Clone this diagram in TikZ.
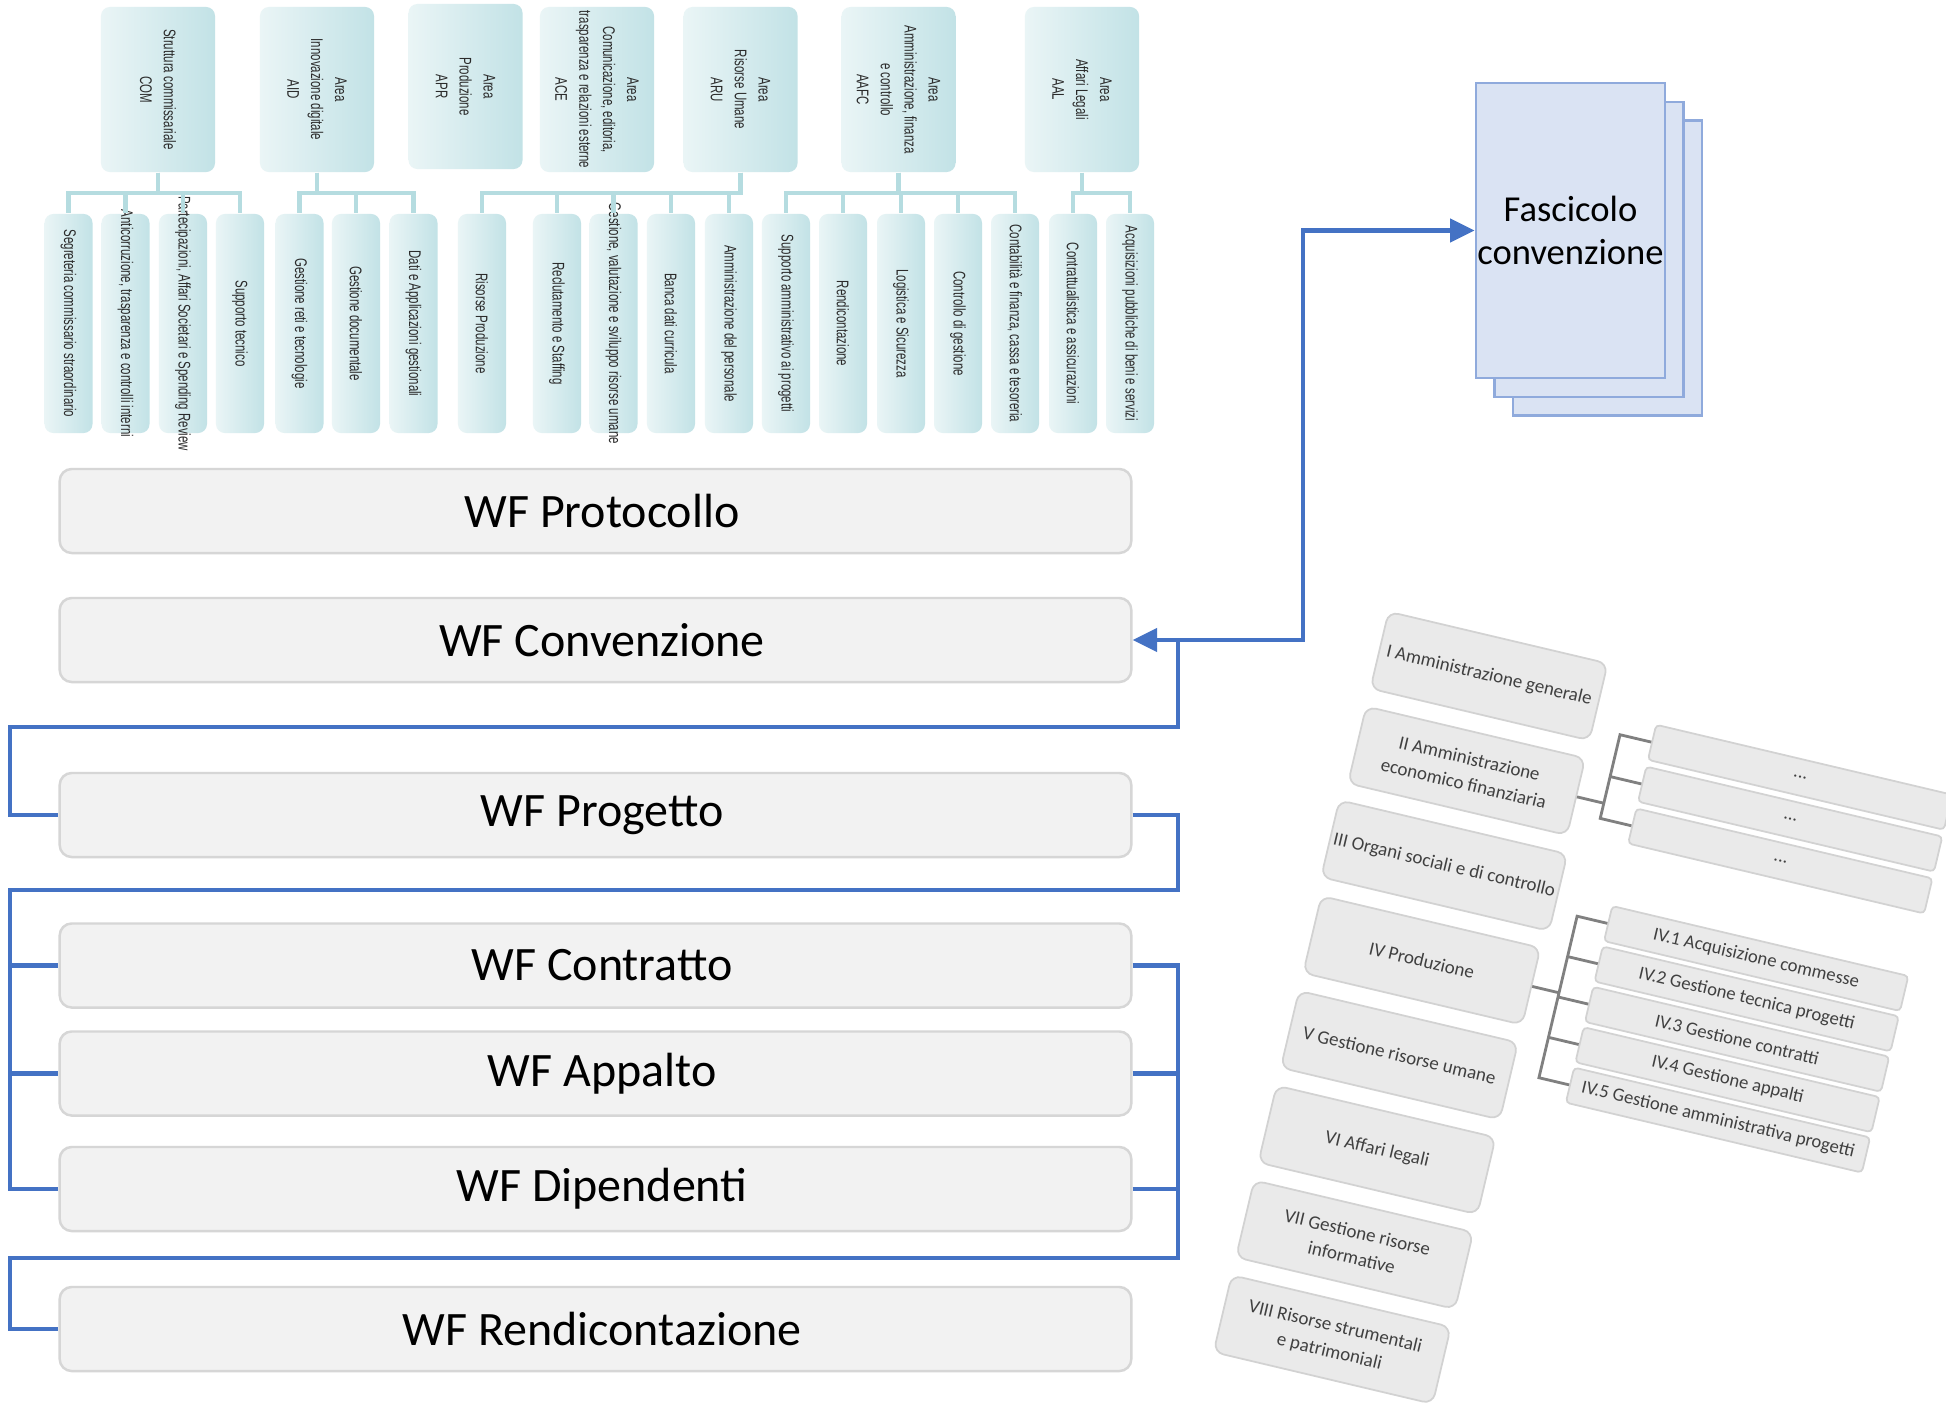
\documentclass[tikz,border=0pt]{standalone}
\usepackage{fontspec}
\setmainfont{Carlito}
\newfontfamily\orgfont[FakeStretch=0.68]{Liberation Sans}
\usetikzlibrary{arrows.meta}
\definecolor{wfblue}{HTML}{4472C4}
\definecolor{wffill}{HTML}{F2F2F2}
\definecolor{wfdraw}{HTML}{D6D6D6}
\definecolor{orgdark}{HTML}{C2E2E6}
\definecolor{orglight}{HTML}{EAF5F6}
\definecolor{orgline}{HTML}{B5DCE0}
\definecolor{orgtext}{HTML}{2B2B2B}
\definecolor{fascfill}{HTML}{DAE3F3}
\definecolor{fascdraw}{HTML}{8FAADC}
\definecolor{tiltfill}{HTML}{EAEAEA}
\definecolor{tiltdraw}{HTML}{D2D2D2}
\definecolor{tilttext}{HTML}{404040}
\definecolor{tiltline}{HTML}{808080}
\newcommand\ctext[1]{\makebox[0pt]{#1}}
\tikzset{
  wfbox/.style={draw=wfdraw, fill=wffill, line width=0.7pt, rounded corners=0.12cm, minimum width=10.71cm, minimum height=0.84cm, inner sep=0pt, font=\fontsize{13.65}{15.5}\selectfont, execute at begin node={\hspace*{0.13cm}}},
  bluecon/.style={draw=wfblue, line width=1.3pt},
  bluearrow/.style={bluecon, {Triangle[length=7pt,width=6.5pt]}-{Triangle[length=7pt,width=6.5pt]}},
  orgbase/.style={rotate=-90, rounded corners=0.09cm, left color=orglight, right color=orgdark, inner sep=0pt, align=center, text=orgtext, font=\orgfont\fontsize{4.8}{6.8}\selectfont},
  orghead/.style={orgbase, minimum width=1.65cm, minimum height=1.14cm},
  orgchild/.style={orgbase, minimum width=2.19cm, minimum height=0.48cm},
  orgconn/.style={draw=orgline, line width=1.3pt},
  fascpage/.style={draw=fascdraw, fill=fascfill, line width=0.7pt, minimum width=1.89cm, minimum height=2.95cm, inner sep=0pt, align=center, font=\fontsize{10.4}{12.4}\selectfont},
  mainbox/.style={transform shape, draw=tiltdraw, fill=tiltfill, line width=0.5pt, rounded corners=0.1cm, minimum width=2.25cm, minimum height=0.79cm, inner sep=1pt, align=center, text=tilttext, font=\fontsize{5.4}{7.3}\selectfont},
  subbox/.style={transform shape, draw=tiltdraw, fill=tiltfill, line width=0.5pt, rounded corners=0.04cm, minimum width=3.04cm, minimum height=0.36cm, inner sep=1pt, text=tilttext, font=\fontsize{5.3}{6.3}\selectfont},
  graycon/.style={draw=tiltline, line width=0.8pt},
}
\begin{document}
\begin{tikzpicture}[x=0.01cm, y=-0.01cm]
\useasboundingbox (0,0) rectangle (1946,1415);
\clip (0,0) rectangle (1946,1415);
\fill[white] (0,0) rectangle (1946,1415);

% ---------- org chart heads ----------
\node[orghead] (hCOM) at (158,89.5) {Struttura commissariale\\COM};
\node[orghead] (hAID) at (317,89.5) {Area\\Innovazione digitale\\AID};
\node[orghead] (hAPR) at (465.5,86.5) {Area\\Produzione\\APR};
\node[orghead] (hACE) at (597,89.5) {Area\\Comunicazione, editoria,\\trasparenza e relazioni esterne\\ACE};
\node[orghead] (hARU) at (740.5,89.5) {Area\\Risorse Umane\\ARU};
\node[orghead] (hAAFC) at (898.5,89.5) {Area\\Amministrazione, finanza\\e controllo\\AAFC};
\node[orghead] (hAAL) at (1082,89.5) {Area\\Affari Legali\\AAL};

% ---------- org chart children ----------
\node[orgchild] (c1) at (68.5,323.5) {\ctext{Segreteria commissario straordinario}};
\node[orgchild] (c2) at (125.5,323.5) {\ctext{Anticorruzione, trasparenza e controlli interni}};
\node[orgchild] (c3) at (183,323.5) {\ctext{Partecipazioni, Affari Societari e Spending Review}};
\node[orgchild] (c4) at (240,323.5) {\ctext{Supporto tecnico}};
\node[orgchild] (c5) at (299.5,323.5) {\ctext{Gestione reti e tecnologie}};
\node[orgchild] (c6) at (356,323.5) {\ctext{Gestione documentale}};
\node[orgchild] (c7) at (413.5,323.5) {\ctext{Dati e Applicazioni gestionali}};
\node[orgchild] (c8) at (482,323.5) {\ctext{Risorse Produzione}};
\node[orgchild] (c9) at (557,323.5) {\ctext{Reclutamento e Staffing}};
\node[orgchild] (c10) at (613.5,323.5) {\ctext{Gestione, valutazione e sviluppo risorse umane}};
\node[orgchild] (c11) at (671,323.5) {\ctext{Banca dati curricula}};
\node[orgchild] (c12) at (729,323.5) {\ctext{Amministrazione del personale}};
\node[orgchild] (c13) at (786,323.5) {\ctext{Supporto amministrativo ai progetti}};
\node[orgchild] (c14) at (843,323.5) {\ctext{Rendicontazione}};
\node[orgchild] (c15) at (901,323.5) {\ctext{Logistica e Sicurezza}};
\node[orgchild] (c16) at (958,323.5) {\ctext{Controllo di gestione}};
\node[orgchild] (c17) at (1015,323.5) {\ctext{Contabilità e finanza, cassa e tesoreria}};
\node[orgchild] (c18) at (1073,323.5) {\ctext{Contrattualistica e assicurazioni}};
\node[orgchild] (c19) at (1130,323.5) {\ctext{Acquisizioni pubbliche di beni e servizi}};

\coordinate (bar) at (0,193);
\foreach \c in {1,...,4} \draw[orgconn] (hCOM.east) -- (hCOM.east |- bar) -| (c\c.west);
\foreach \c in {5,6,7} \draw[orgconn] (hAID.east) -- (hAID.east |- bar) -| (c\c.west);
\foreach \c in {8,...,12} \draw[orgconn] (hARU.east) -- (hARU.east |- bar) -| (c\c.west);
\foreach \c in {13,...,17} \draw[orgconn] (hAAFC.east) -- (hAAFC.east |- bar) -| (c\c.west);
\foreach \c in {18,19} \draw[orgconn] (hAAL.east) -- (hAAL.east |- bar) -| (c\c.west);

% ---------- WF boxes ----------
\node[wfbox] (wf1) at (595.5,511) {WF Protocollo};
\node[wfbox] (wf2) at (595.5,640) {WF Convenzione};
\node[wfbox] (wf3) at (595.5,815) {WF Progetto};
\node[wfbox] (wf4) at (595.5,965.5) {WF Contratto};
\node[wfbox] (wf5) at (595.5,1073.5) {WF Appalto};
\node[wfbox] (wf6) at (595.5,1189) {WF Dipendenti};
\node[wfbox] (wf7) at (595.5,1329) {WF Rendicontazione};

% ---------- Fascicolo ----------
\node[fascpage] (fasc3) at (1607.5,268) {};
\node[fascpage] (fasc2) at (1589,249.5) {};
\node[fascpage] (fasc1) at (1570.5,230.5) {Fascicolo\\convenzione};

% ---------- blue connectors ----------
\coordinate (fx) at (1303,0);
\coordinate (r23) at (1178,727);
\coordinate (l23) at (10,727);
\coordinate (r34) at (1178,890);
\coordinate (l34) at (10,890);
\coordinate (r67) at (1178,1258);
\coordinate (l67) at (10,1258);
\draw[bluearrow] (wf2.east) -- (wf2.east -| fx) |- (fasc1.west);
\draw[bluecon] (wf2.east -| r23) -- (r23) -- (l23) |- (wf3.west);
\draw[bluecon] (wf3.east) -| (r34) -- (l34) |- (wf4.west);
\draw[bluecon] (l34) |- (wf5.west);
\draw[bluecon] (l34) |- (wf6.west);
\draw[bluecon] (wf4.east) -| (r67);
\draw[bluecon] (wf5.east) -| (r67);
\draw[bluecon] (wf6.east) -| (r67) -- (l67) |- (wf7.west);

% ---------- tilted classification ----------
\begin{scope}[shift={(1489,676)}, rotate=-13.3]
\node[mainbox] (m1) at (0,0) {I Amministrazione generale};
\node[mainbox] (m2) at (0,97.4) {II Amministrazione\\economico finanziaria};
\node[mainbox] (m3) at (0,194.8) {III Organi sociali e di controllo};
\node[mainbox] (m4) at (0,292.2) {IV Produzione};
\node[mainbox] (m5) at (0,389.6) {V Gestione risorse umane};
\node[mainbox] (m6) at (0,487) {VI Affari legali};
\node[mainbox] (m7) at (0,584.4) {VII Gestione risorse\\informative};
\node[mainbox] (m8) at (0,681.8) {VIII Risorse strumentali\\e patrimoniali};
\node[subbox] (s1) at (326,27) {...};
\node[subbox] (s2) at (326,70) {...};
\node[subbox] (s3) at (326,113) {...};
\node[subbox] (p1) at (325,213.5) {IV.1 Acquisizione commesse};
\node[subbox] (p2) at (325,255) {IV.2 Gestione tecnica progetti};
\node[subbox] (p3) at (325,296.5) {IV.3 Gestione contratti};
\node[subbox] (p4) at (325,338) {IV.4 Gestione appalti};
\node[subbox] (p5) at (325,379.5) {IV.5 Gestione amministrativa progetti};
\coordinate (j2) at (141,97.4);
\coordinate (b1) at (141,27);
\coordinate (b2) at (141,70);
\coordinate (b3) at (141,113);
\coordinate (j4) at (141,292.2);
\coordinate (q1) at (141,213.5);
\coordinate (q2) at (141,255);
\coordinate (q3) at (141,296.5);
\coordinate (q4) at (141,338);
\coordinate (q5) at (141,379.5);
\draw[graycon] (m2.east) -- (j2);
\draw[graycon] (s1.west) -- (b1) -- (b3) -- (s3.west);
\draw[graycon] (b2) -- (s2.west);
\draw[graycon] (m4.east) -- (j4);
\draw[graycon] (p1.west) -- (q1) -- (q5) -- (p5.west);
\draw[graycon] (q2) -- (p2.west);
\draw[graycon] (q3) -- (p3.west);
\draw[graycon] (q4) -- (p4.west);
\end{scope}
\end{tikzpicture}
\end{document}
